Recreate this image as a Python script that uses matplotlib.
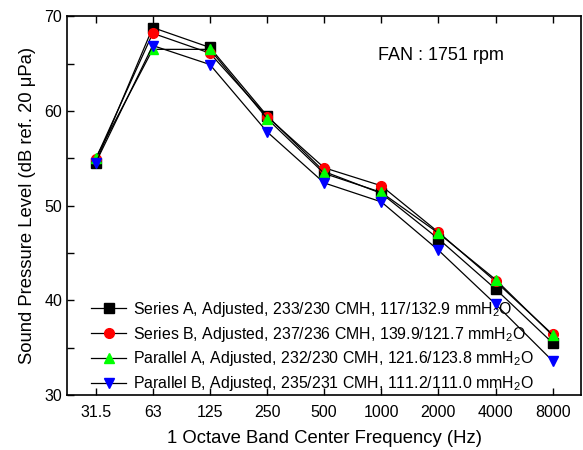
import matplotlib
matplotlib.use("Agg")
import matplotlib.pyplot as plt
from matplotlib.ticker import MultipleLocator

plt.rcParams["font.family"] = ["Liberation Sans", "DejaVu Sans"]
plt.rcParams["mathtext.fontset"] = "custom"
plt.rcParams["mathtext.rm"] = "Liberation Sans"
plt.rcParams["mathtext.it"] = "Liberation Sans:italic"

freqs = ["31.5", "63", "125", "250", "500", "1000", "2000", "4000", "8000"]
series_a = [54.5, 68.8, 66.7, 59.5, 53.6, 51.3, 46.5, 41.2, 35.5]
series_b = [54.9, 68.2, 66.1, 59.4, 54.0, 52.1, 47.2, 42.0, 36.4]
parallel_a = [55.0, 66.5, 66.5, 59.2, 53.4, 51.4, 47.1, 42.2, 36.3]
parallel_b = [54.5, 66.9, 64.9, 57.8, 52.4, 50.4, 45.3, 39.6, 33.6]

labels = [
    "Series A, Adjusted, 233/230 CMH, 117/132.9 mmH$_2$O",
    "Series B, Adjusted, 237/236 CMH, 139.9/121.7 mmH$_2$O",
    "Parallel A, Adjusted, 232/230 CMH, 121.6/123.8 mmH$_2$O",
    "Parallel B, Adjusted, 235/231 CMH, 111.2/111.0 mmH$_2$O",
]
styles = [("s", "black"), ("o", "red"), ("^", "#00ff00"), ("v", "blue")]

fig = plt.figure(figsize=(5.83, 4.5), dpi=100)
ax = fig.add_axes([0.115, 0.122, 0.882, 0.842])

x = list(range(len(freqs)))
for ys, (m, c), lab in zip([series_a, series_b, parallel_a, parallel_b], styles, labels):
    ax.plot(x, ys, color="black", lw=0.9, marker=m, markersize=7,
            markerfacecolor=c, markeredgecolor=c, label=lab)

ax.set_xlim(-0.5, 8.5)
ax.set_ylim(30, 70)
ax.set_xticks(x)
ax.set_xticklabels(freqs)
ax.yaxis.set_major_locator(MultipleLocator(10))
ax.yaxis.set_minor_locator(MultipleLocator(5))
ax.tick_params(which="both", direction="in", top=True, right=False, labelsize=11.5,
               length=5, width=1)
ax.tick_params(axis="x", pad=7)
for s in ax.spines.values():
    s.set_linewidth(1.2)

ax.set_xlabel("1 Octave Band Center Frequency (Hz)", fontsize=13.3, labelpad=7)
ax.set_ylabel("Sound Pressure Level (dB ref. 20 \u03bcPa)", fontsize=13.3, labelpad=6)
ax.text(4.95, 65.9, "FAN : 1751 rpm", fontsize=13, ha="left", va="center")

ax.legend(loc="lower left", bbox_to_anchor=(0.035, -0.012), frameon=False, fontsize=11.4,
          handlelength=2.2, handletextpad=0.4, labelspacing=0.37, borderaxespad=0.0)

fig.savefig("out.png", dpi=100)
